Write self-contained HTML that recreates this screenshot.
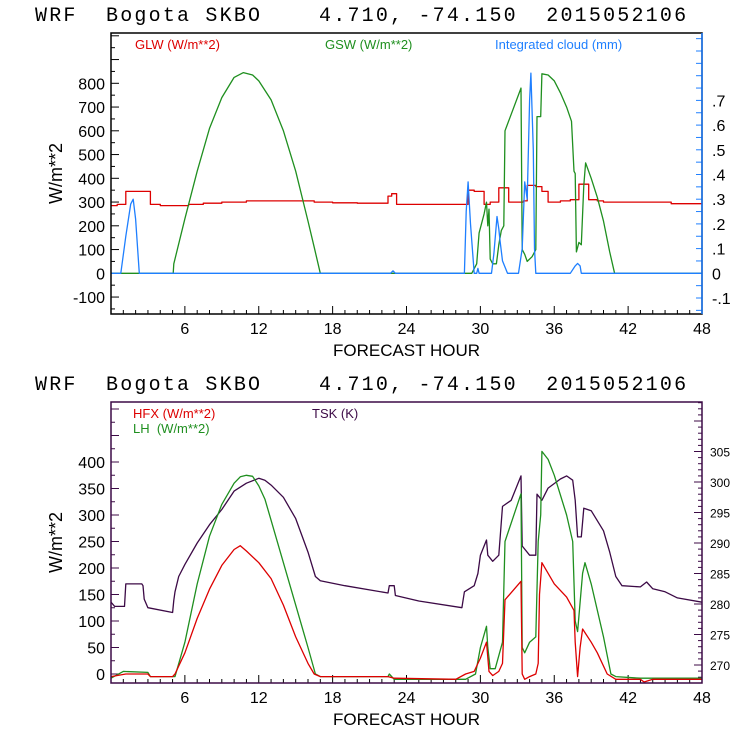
<!DOCTYPE html>
<html><head><meta charset="utf-8"><style>
body{margin:0;background:#fff;width:740px;height:740px;overflow:hidden}
svg{display:block}
text{font-family:"Liberation Sans",sans-serif}
.ttl{font-family:"Liberation Mono",monospace;white-space:pre}
</style></head><body>
<svg id="c" width="740" height="740" xmlns="http://www.w3.org/2000/svg"></svg>
<script>
// ---------- data ----------
const xTicks=[6,12,18,24,30,36,42,48];
const glwH=[0,0.5,1.2,3.2,4,6.3,7.5,9,11,16.5,18,20,22.5,22.8,23.2,29,29.5,30.3,30.8,31.5,32.3,33.5,33.8,34.5,35,35.5,36.5,37.3,38,38.8,39.5,40,45.5,48];
const glwV=[285,290,345,290,285,290,295,300,305,300,297,295,325,335,290,350,345,290,300,360,300,305,370,365,345,300,305,310,375,310,305,300,293,293];
const gswH=[0,5.05,5.1,6,7,8,9,10,10.75,11.5,12,13,14,15,16,16.5,17,29.3,29.7,29.9,30.3,30.5,30.6,30.7,30.8,31,31.3,31.5,31.7,31.9,32,33.3,33.4,33.6,33.8,34.2,34.5,34.6,34.9,35,35.5,36,36.5,37,37.4,37.6,37.7,37.8,38,38.2,38.4,38.55,39,39.5,40,40.5,40.9,48];
const gswV=[0,0,40,230,430,610,740,825,845,835,810,730,600,430,220,110,0,0,40,170,250,300,200,270,60,40,40,120,180,200,600,780,100,80,50,70,100,660,660,840,835,810,760,700,640,430,420,90,130,120,370,465,400,320,220,90,0,0];
const cldH=[0,0.8,1.2,1.6,1.8,2.0,2.3,22.7,22.9,23.1,28.7,28.85,29.0,29.2,29.5,29.7,29.8,29.9,30.9,31.1,31.35,31.5,31.6,31.8,32.2,33.1,33.4,33.6,33.8,34.0,34.1,34.3,34.4,34.5,37.3,37.7,37.9,38.1,38.2,48];
const cldV=[0,0,0.15,0.28,0.30,0.22,0,0,0.01,0,0,0.25,0.37,0.2,0,0,0.02,0,0,0.08,0.23,0.18,0.13,0.05,0,0,0.1,0.37,0.3,0.7,0.81,0.5,0.1,0,0,0.03,0.04,0.03,0,0];
const hfxH=[0,1.2,3,3.2,5,5.2,6,7,8,9,10,10.5,11,12,13,14,15,16,16.5,17,22.5,23,28,28.8,29.5,30,30.5,30.7,31,31.5,31.8,32,33.3,33.4,33.6,34,34.5,34.7,34.8,35,36,37,37.6,37.7,37.9,38.1,38.3,39,39.5,40.3,41,43,43.3,44,48];
const hfxV=[-5,0,0,-5,-5,0,40,105,160,205,235,242,232,210,180,130,70,20,0,-5,-5,-8,-10,0,5,30,60,5,-3,5,20,140,175,0,-10,-5,0,20,150,210,170,145,120,60,-5,50,85,60,40,0,-10,-10,-15,-10,-10];
const lhH=[0,1,3,3.2,5.2,6,7,8,9,10,10.5,11,11.5,12,12.5,13,14,15,16,16.6,17,22.5,22.6,23,28.8,29.6,30,30.5,30.6,30.8,31.2,31.8,32,33.3,33.4,33.6,34,34.5,34.7,34.9,35,35.5,36,37,37.5,37.7,37.9,38.3,38.5,39,40,40.6,41,43,48];
const lhV=[-8,5,3,-5,-5,60,170,260,320,360,372,375,373,355,330,290,210,130,50,0,-5,-5,0,-10,-10,0,50,90,50,10,10,60,250,340,50,40,60,70,250,300,420,405,375,300,250,100,80,190,210,170,70,0,-5,-8,-8];
const tskH=[0,0.3,1.1,1.2,2.5,2.6,2.7,3,5,5.1,5.2,5.5,6,7,8,9,9.5,10,11,12,12.5,13,14,15,16,16.6,17,19,22.5,22.6,23,23.1,25,28.5,28.7,29.5,29.8,30,30.5,30.6,31,31.5,31.8,32.5,33.3,33.4,34,34.5,34.6,35,35.5,36.5,37,37.5,37.7,37.9,38.2,38.4,39,40,40.5,41,41.5,43,43.5,44,45,46,48];
const tskV=[280.3,279.6,279.6,283.3,283.3,283,280.8,279.4,278.6,280.6,282,284.5,286.5,290,293,295.5,297,298.5,299.8,300.6,300.3,299.5,297.5,294,288.5,284.5,283.8,283,281.8,283,283,281.4,280.5,279.4,282,283,285,288,290.5,288,287,288,296,297,301,289.5,288,288,298,297,299,300.5,301,300.3,297,291,291,295.7,295.3,292,288.5,284.5,283,282.8,283.6,282.5,282,281,280.3];
const topLeftTicks=[-100,0,100,200,300,400,500,600,700,800];
const topRightTicks=[-0.1,0,0.1,0.2,0.3,0.4,0.5,0.6,0.7];
const topRightLabels=["-.1","0",".1",".2",".3",".4",".5",".6",".7"];
const botLeftTicks=[0,50,100,150,200,250,300,350,400];
const botRightTicks=[270,275,280,285,290,295,300,305];

// ---------- drawing ----------
const svg=document.getElementById('c');
const NS='http://www.w3.org/2000/svg';
function mk(tag,attrs,name,parent){const e=document.createElementNS(NS,tag);for(const k in attrs)e.setAttribute(k,attrs[k]);


(parent||svg).appendChild(e);return e;}
function txt(x,y,s,name,o){const t=mk('text',Object.assign({x:x,y:y,'font-size':16,fill:'#000'},o||{}),name);t.textContent=s;return t;}
const L=111,R=702;
const xs=h=>L+h*(R-L)/48;

function panel(top,bottom,p){
  const g=mk('g',{},p+'-panel');
  txt(35,top-12,'WRF  Bogota SKBO    4.710, -74.150  2015052106',p+'-title',{'font-size':20,'letter-spacing':'2.2','class':'ttl'});
  for(let h=1;h<48;h++){const big=h%6==0;mk('line',{x1:xs(h),x2:xs(h),y1:bottom,y2:bottom-(big?8:4),stroke:'#000','stroke-width':1},p+'-x-tick',g);}
  xTicks.forEach(h=>txt(xs(h),bottom+20,String(h),p+'-x-tick-label',{'text-anchor':'middle'}));
  txt((L+R)/2,bottom+42,'FORECAST HOUR',p+'-x-axis-title',{'text-anchor':'middle','font-size':17});
  return g;
}
function line(H,V,ys,color,name,step){
  let d='';H.forEach((h,i)=>{
    if(i&&step)d+='L'+xs(h).toFixed(1)+','+ys(V[i-1]).toFixed(1);
    d+=(i?'L':'M')+xs(h).toFixed(1)+','+ys(V[i]).toFixed(1);});
  mk('path',{d:d,fill:'none',stroke:color,'stroke-width':1.3,'stroke-linejoin':'round'},name);
}

// top panel
const T1=33,B1=314;
const y1=v=>273.3-v*0.2375;
const yc=v=>273.3-v*247;
const g1=panel(T1,B1,'top');
for(let v=-150;v<=1000;v+=50){const big=v%100==0;mk('line',{x1:L,x2:L+(big?8:4),y1:y1(v),y2:y1(v),stroke:'#000'},'top-left-tick',g1);}
topLeftTicks.forEach(v=>txt(L-6,y1(v)+6,String(v),'top-y-tick-label',{'text-anchor':'end'}));
for(let v=-0.15;v<=1.0;v+=0.05){const yy=yc(v);if(yy<T1||yy>B1)continue;mk('line',{x1:R,x2:R-6,y1:yy,y2:yy,stroke:'#1e7fff'},'top-right-tick',g1);}
topRightTicks.forEach((v,i)=>txt(R+10,yc(v)+6,topRightLabels[i],'top-right-tick-label',{}));
txt(62,(T1+B1)/2,'W/m**2','top-y-axis-title',{'text-anchor':'middle','font-size':18,transform:'rotate(-90 62 '+((T1+B1)/2)+')'});
line(glwH,glwV,y1,'#dd0000','glw-line',true);
line(gswH,gswV,y1,'#1f8f1f','gsw-line');
line(cldH,cldV,yc,'#1e7fff','cloud-line');
mk('rect',{x:L,y:T1,width:R-L,height:B1-T1,fill:'none',stroke:'#000','stroke-width':1.5},'top-plot-frame');
mk('line',{x1:R,x2:R,y1:T1,y2:B1,stroke:'#1e7fff','stroke-width':1.5},'top-right-axis');
txt(135,49,'GLW (W/m**2)','legend-glw',{fill:'#dd0000','font-size':13,'font-family':'Liberation Serif'});
txt(325,49,'GSW (W/m**2)','legend-gsw',{fill:'#1f8f1f','font-size':13,'font-family':'Liberation Serif'});
txt(495,49,'Integrated cloud (mm)','legend-cloud',{fill:'#1e7fff','font-size':13,'font-family':'Liberation Serif'});

// bottom panel
const T2=402,B2=683;
const y2=v=>674-v*0.53;
const yk=v=>665-(v-270)*6.1;
const g2=panel(T2,B2,'bottom');
for(let v=-25;v<=525;v+=25){const yy=y2(v);if(yy<T2||yy>B2)continue;const big=v%50==0;mk('line',{x1:L,x2:L+(big?8:4),y1:yy,y2:yy,stroke:'#3c0a46'},'bottom-left-tick',g2);}
botLeftTicks.forEach(v=>txt(L-6,y2(v)+6,String(v),'bottom-y-tick-label',{'text-anchor':'end'}));
for(let v=268;v<=316;v+=1){const yy=yk(v);if(yy<T2||yy>B2)continue;const big=v%5==0;mk('line',{x1:R,x2:R-(big?8:4),y1:yy,y2:yy,stroke:'#3c0a46'},'bottom-right-tick',g2);}
botRightTicks.forEach(v=>txt(R+8,yk(v)+5,String(v),'bottom-right-tick-label',{'font-size':12}));
txt(62,(T2+B2)/2,'W/m**2','bottom-y-axis-title',{'text-anchor':'middle','font-size':18,transform:'rotate(-90 62 '+((T2+B2)/2)+')'});
line(tskH,tskV,yk,'#3c0a46','tsk-line');
line(lhH,lhV,y2,'#1f8f1f','lh-line');
line(hfxH,hfxV,y2,'#dd0000','hfx-line');
mk('rect',{x:L,y:T2,width:R-L,height:B2-T2,fill:'none',stroke:'#3c0a46','stroke-width':1.5},'bottom-plot-frame');
txt(133,418,'HFX (W/m**2)','legend-hfx',{fill:'#dd0000','font-size':13,'font-family':'Liberation Serif'});
txt(133,433,'LH  (W/m**2)','legend-lh',{fill:'#1f8f1f','font-size':13,'font-family':'Liberation Serif','style':'white-space:pre'});
txt(312,418,'TSK (K)','legend-tsk',{fill:'#3c0a46','font-size':13,'font-family':'Liberation Serif'});
</script>
</body></html>
